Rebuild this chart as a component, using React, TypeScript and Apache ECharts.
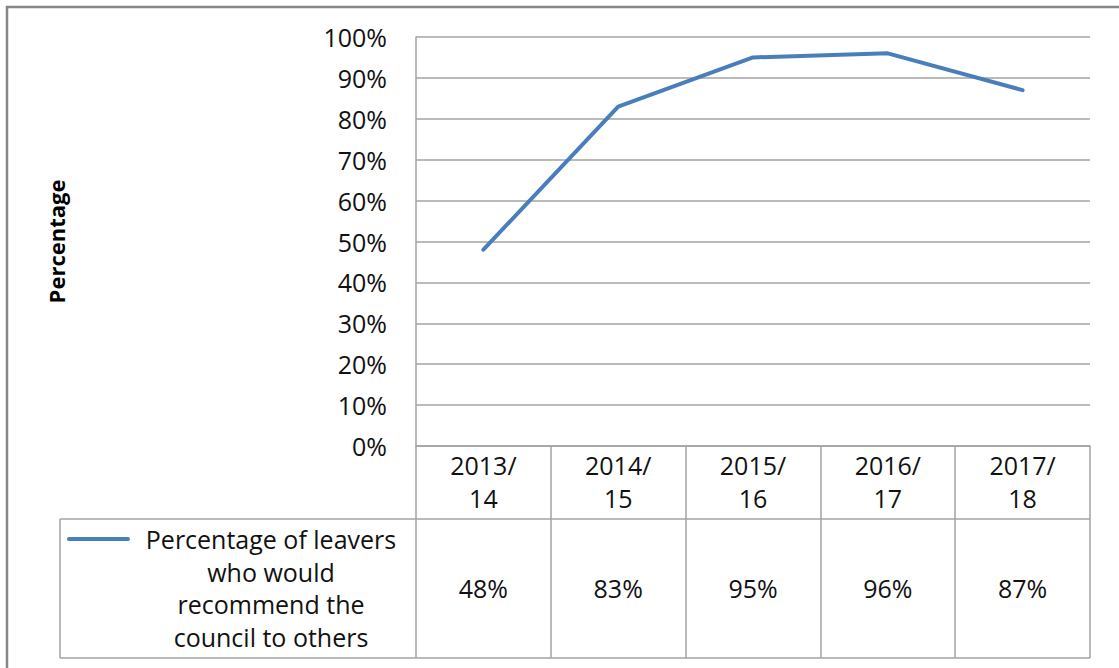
import React, { useEffect, useRef } from "react";
import * as echarts from "echarts";

// Survey years and the share of leavers recommending the council
const categories = ["2013/14", "2014/15", "2015/16", "2016/17", "2017/18"];
const values = [48, 83, 95, 96, 87];
const seriesLegendLines = ["Percentage of leavers", "who would", "recommend the", "council to others"];
const yAxisTitle = "Percentage";
const yMin = 0;
const yMax = 100;
const yStep = 10;

const FONT = "Open Sans";
const FONT_SIZE = 25;
const LINE_COLOR = "#4a7ebb";
const GRID_COLOR = "#a3a3a3";

export default function App() {
  const ref = useRef<HTMLDivElement>(null);

  useEffect(() => {
    if (!ref.current) return;
    const chart = echarts.init(ref.current, null, { renderer: "svg" });

    const gridLeft = 416;
    const gridRight = 1090;
    const gridTop = 37;
    const gridBottom = 446;
    const tableMid = 519;
    const tableBottom = 658;
    const legendLeft = 60;

    chart.setOption({
      animation: false,
      backgroundColor: "#ffffff",
      textStyle: { fontFamily: FONT },
      grid: {
        left: gridLeft,
        top: gridTop,
        width: gridRight - gridLeft,
        height: gridBottom - gridTop,
        containLabel: false,
      },
      xAxis: [
        {
          type: "category",
          data: categories,
          boundaryGap: true,
          position: "bottom",
          axisLine: { show: true, lineStyle: { color: GRID_COLOR, width: 1.5 } },
          axisTick: {
            show: true,
            interval: 0,
            length: tableBottom - gridBottom,
            lineStyle: { color: GRID_COLOR, width: 1.5 },
          },
          axisLabel: {
            interval: 0,
            margin: 2,
            fontFamily: FONT,
            fontSize: FONT_SIZE,
            lineHeight: 33,
            color: "#111",
            formatter: (c: string) => c.replace("/", "/\n"),
          },
          splitLine: { show: false },
        },
        {
          // Value row of the data table, one cell per category
          type: "category",
          data: values.map((v) => v + "%"),
          boundaryGap: true,
          position: "bottom",
          axisLine: { show: false },
          axisTick: { show: false },
          axisLabel: {
            interval: 0,
            margin: 588 - gridBottom - 14,
            fontFamily: FONT,
            fontSize: FONT_SIZE,
            lineHeight: 28,
            color: "#111",
          },
          splitLine: { show: false },
        },
      ],
      yAxis: {
        type: "value",
        min: yMin,
        max: yMax,
        interval: yStep,
        name: yAxisTitle,
        nameLocation: "middle",
        nameRotate: 90,
        nameGap: gridLeft - 67,
        nameTextStyle: { fontFamily: FONT, fontSize: 22, fontWeight: "bold", color: "#000" },
        axisLine: { show: true, lineStyle: { color: GRID_COLOR, width: 1.5 } },
        axisTick: { show: false },
        axisLabel: {
          margin: 29,
          fontFamily: FONT,
          fontSize: FONT_SIZE,
          color: "#111",
          formatter: "{value}%",
        },
        splitLine: { show: true, lineStyle: { color: GRID_COLOR, width: 1.5 } },
      },
      series: [
        {
          name: seriesLegendLines.join(" "),
          type: "line",
          data: values,
          xAxisIndex: 0,
          symbol: "none",
          lineStyle: { color: LINE_COLOR, width: 4, join: "round", cap: "round" },
          itemStyle: { color: LINE_COLOR },
        },
      ],
      graphic: [
        {
          type: "rect",
          shape: { x: 7, y: 7, width: 1140, height: 690 },
          style: { fill: "none", stroke: "#878787", lineWidth: 2.5 },
          silent: true,
        },
        {
          type: "line",
          shape: { x1: legendLeft, y1: tableMid, x2: gridRight, y2: tableMid },
          style: { stroke: GRID_COLOR, lineWidth: 1.5 },
        },
        {
          type: "line",
          shape: { x1: legendLeft, y1: tableBottom, x2: gridRight, y2: tableBottom },
          style: { stroke: GRID_COLOR, lineWidth: 1.5 },
        },
        {
          type: "line",
          shape: { x1: legendLeft, y1: tableMid, x2: legendLeft, y2: tableBottom },
          style: { stroke: GRID_COLOR, lineWidth: 1.5 },
        },
        {
          type: "line",
          shape: { x1: 69, y1: 539, x2: 128, y2: 539 },
          style: { stroke: LINE_COLOR, lineWidth: 4, lineCap: "round" },
        },
        ...seriesLegendLines.map((t, i) => ({
          type: "text",
          x: 271,
          y: 539 + i * 32.5,
          style: {
            text: t,
            fontFamily: FONT,
            fontSize: FONT_SIZE,
            fill: "#111",
            align: "center",
            verticalAlign: "middle",
          },
        })),
      ],
    });

    return () => chart.dispose();
  }, []);

  return (
    <div
      ref={ref}
      style={{ position: "fixed", left: 0, top: 0, width: 1119, height: 668 }}
    />
  );
}
